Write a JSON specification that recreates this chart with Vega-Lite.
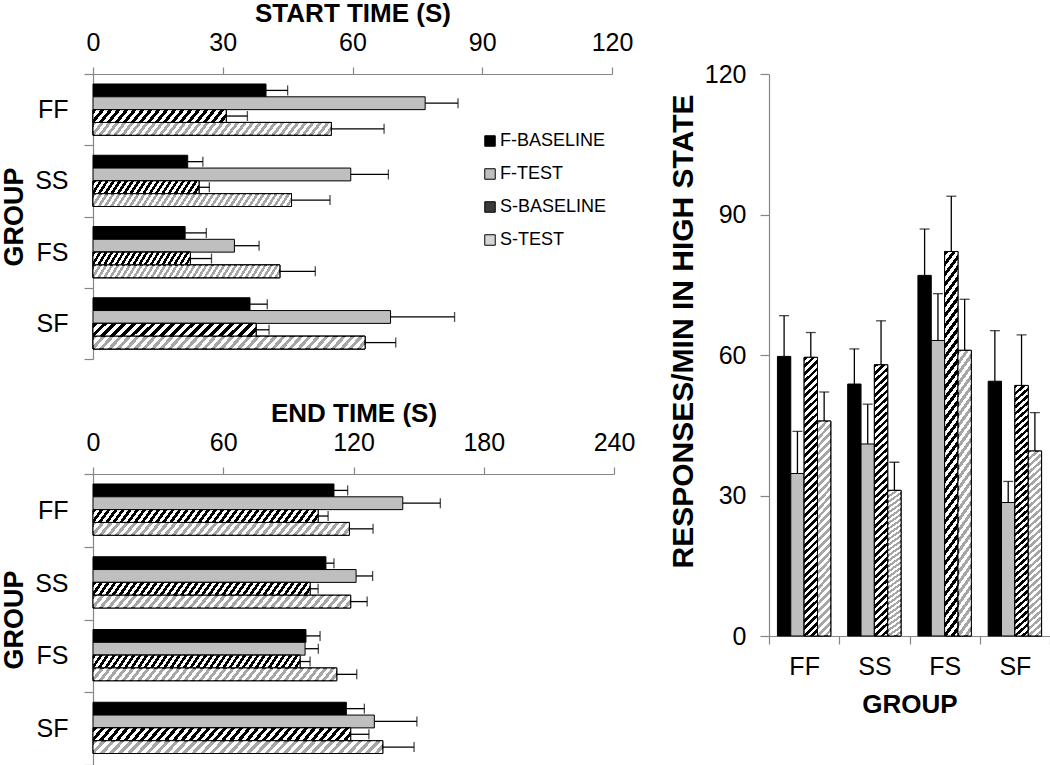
{
"$schema": "https://vega.github.io/schema/vega-lite/v6.json",
"padding": {"left": 0, "top": 0, "right": 0, "bottom": 0},
"background": "white",
"config": {
"view": {"stroke": null},
"font": "Liberation Sans",
"axis": {"labelFont": "Liberation Sans", "titleFont": "Liberation Sans", "labelFontSize": 25, "titleFontSize": 26, "titleFontWeight": "bold", "labelColor": "#000000", "titleColor": "#000000", "domainColor": "#868686", "tickColor": "#868686", "domainWidth": 1.2, "tickWidth": 1.2, "grid": false, "labelFlush": false, "labelBound": false}
},
"datasets": {
"start": [
{"group":"FF","series":"F-BASELINE","mean":40,"upper":45},
{"group":"FF","series":"F-TEST","mean":76.8,"upper":84.4},
{"group":"FF","series":"S-BASELINE","mean":30.8,"upper":35.7},
{"group":"FF","series":"S-TEST","mean":55.1,"upper":67.3},
{"group":"SS","series":"F-BASELINE","mean":21.9,"upper":25.4},
{"group":"SS","series":"F-TEST","mean":59.6,"upper":68.3},
{"group":"SS","series":"S-BASELINE","mean":24.5,"upper":26.9},
{"group":"SS","series":"S-TEST","mean":45.9,"upper":54.8},
{"group":"FS","series":"F-BASELINE","mean":21.3,"upper":26.2},
{"group":"FS","series":"F-TEST","mean":32.7,"upper":38.4},
{"group":"FS","series":"S-BASELINE","mean":22.5,"upper":27.4},
{"group":"FS","series":"S-TEST","mean":43.2,"upper":51.4},
{"group":"SF","series":"F-BASELINE","mean":36.3,"upper":40.3},
{"group":"SF","series":"F-TEST","mean":68.8,"upper":83.6},
{"group":"SF","series":"S-BASELINE","mean":37.7,"upper":40.7},
{"group":"SF","series":"S-TEST","mean":62.9,"upper":70.0}
],
"end": [
{"group":"FF","series":"F-BASELINE","mean":111,"upper":117.3},
{"group":"FF","series":"F-TEST","mean":142.7,"upper":160},
{"group":"FF","series":"S-BASELINE","mean":103.7,"upper":108.3},
{"group":"FF","series":"S-TEST","mean":118.1,"upper":129},
{"group":"SS","series":"F-BASELINE","mean":107.3,"upper":111},
{"group":"SS","series":"F-TEST","mean":121.2,"upper":128.8},
{"group":"SS","series":"S-BASELINE","mean":100,"upper":103.7},
{"group":"SS","series":"S-TEST","mean":118.7,"upper":126.3},
{"group":"FS","series":"F-BASELINE","mean":98.1,"upper":104.6},
{"group":"FS","series":"F-TEST","mean":97.7,"upper":103.8},
{"group":"FS","series":"S-BASELINE","mean":95.4,"upper":100},
{"group":"FS","series":"S-TEST","mean":112.3,"upper":121.5},
{"group":"SF","series":"F-BASELINE","mean":116.7,"upper":125},
{"group":"SF","series":"F-TEST","mean":129.6,"upper":149.2},
{"group":"SF","series":"S-BASELINE","mean":118.7,"upper":127.1},
{"group":"SF","series":"S-TEST","mean":133.5,"upper":147.9}
],
"rate": [
{"group":"FF","series":"F-BASELINE","mean":59.7,"upper":68.4},
{"group":"FF","series":"F-TEST","mean":34.7,"upper":43.7},
{"group":"FF","series":"S-BASELINE","mean":59.5,"upper":64.8},
{"group":"FF","series":"S-TEST","mean":45.9,"upper":52.1},
{"group":"SS","series":"F-BASELINE","mean":53.8,"upper":61.3},
{"group":"SS","series":"F-TEST","mean":41,"upper":49.5},
{"group":"SS","series":"S-BASELINE","mean":57.9,"upper":67.3},
{"group":"SS","series":"S-TEST","mean":31.1,"upper":37.1},
{"group":"FS","series":"F-BASELINE","mean":77,"upper":86.9},
{"group":"FS","series":"F-TEST","mean":63.1,"upper":73.1},
{"group":"FS","series":"S-BASELINE","mean":82.1,"upper":93.9},
{"group":"FS","series":"S-TEST","mean":61,"upper":71.9},
{"group":"SF","series":"F-BASELINE","mean":54.4,"upper":65.2},
{"group":"SF","series":"F-TEST","mean":28.5,"upper":33},
{"group":"SF","series":"S-BASELINE","mean":53.5,"upper":64.3},
{"group":"SF","series":"S-TEST","mean":39.5,"upper":47.7}
]
},
"resolve": {"scale": {"fill": "independent"}, "legend": {"fill": "independent"}, "axis": {}},
"spacing": 33,
"hconcat": [
{
"resolve": {"scale": {"fill": "independent"}, "legend": {"fill": "independent"}, "axis": {}},
"bounds": "flush",
"spacing": 115,
"vconcat": [
{
"width": 519, "height": 285,
"data": {"name": "start"},
"encoding": {
"y": {"field": "group", "type": "nominal", "sort": ["FF","SS","FS","SF"], "scale": {"paddingInner": 0, "paddingOuter": 0}, "axis": {"title": "GROUP", "titleFontSize": 27, "tickBand": "extent", "tickSize": 9, "labelPadding": 16, "titlePadding": 6}},
"yOffset": {"field": "series", "type": "nominal", "sort": ["F-BASELINE","F-TEST","S-BASELINE","S-TEST"], "scale": {"domain": ["F-BASELINE","F-TEST","S-BASELINE","S-TEST"], "paddingInner": 0, "paddingOuter": 0.78}},
"x": {"field": "mean", "type": "quantitative", "scale": {"domain": [0,120]}, "axis": {"orient": "top", "values": [0,30,60,90,120], "title": "START TIME (S)", "tickSize": 7, "labelPadding": 12, "titlePadding": 4}}
},
"layer": [
{"mark": {"type": "bar", "stroke": "#000000", "strokeWidth": 1},
 "encoding": {"fill": {"field": "series", "type": "nominal", "scale": {"domain": ["F-BASELINE","F-TEST","S-BASELINE","S-TEST"], "range": ["#000000","#bfbfbf","#3a3a3a","#d6d6d6"]},
  "legend": {"orient": "none", "legendX": 388, "legendY": 58, "title": null, "symbolType": "square", "symbolSize": 110, "symbolStrokeColor": "#000000", "symbolStrokeWidth": 1, "labelFont": "Liberation Sans", "labelFontSize": 18, "labelColor": "#000000", "labelOffset": 1, "rowPadding": 15}}}},
{"transform": [{"filter": "datum.series === 'S-BASELINE'"}], "mark": {"type": "bar", "color": "#000000", "stroke": "#000000", "strokeWidth": 1}},
{"transform": [{"filter": "datum.series === 'S-TEST'"}], "mark": {"type": "bar", "color": "#a6a6a6", "stroke": "#000000", "strokeWidth": 1}},
{"transform": [{"filter": "datum.series === 'S-BASELINE'"}], "mark": {"type": "bar", "stroke": "#000000", "strokeWidth": 1, "color": {"gradient": "linear", "x1": 0, "y1": 0, "x2": 1.0731, "y2": 0.0858, "stops": [{"offset":0,"color":"transparent"},{"offset":0.0278,"color":"transparent"},{"offset":0.0278,"color":"white"},{"offset":0.0556,"color":"white"},{"offset":0.0556,"color":"transparent"},{"offset":0.0833,"color":"transparent"},{"offset":0.0833,"color":"white"},{"offset":0.1111,"color":"white"},{"offset":0.1111,"color":"transparent"},{"offset":0.1389,"color":"transparent"},{"offset":0.1389,"color":"white"},{"offset":0.1667,"color":"white"},{"offset":0.1667,"color":"transparent"},{"offset":0.1944,"color":"transparent"},{"offset":0.1944,"color":"white"},{"offset":0.2222,"color":"white"},{"offset":0.2222,"color":"transparent"},{"offset":0.25,"color":"transparent"},{"offset":0.25,"color":"white"},{"offset":0.2778,"color":"white"},{"offset":0.2778,"color":"transparent"},{"offset":0.3056,"color":"transparent"},{"offset":0.3056,"color":"white"},{"offset":0.3333,"color":"white"},{"offset":0.3333,"color":"transparent"},{"offset":0.3611,"color":"transparent"},{"offset":0.3611,"color":"white"},{"offset":0.3889,"color":"white"},{"offset":0.3889,"color":"transparent"},{"offset":0.4167,"color":"transparent"},{"offset":0.4167,"color":"white"},{"offset":0.4444,"color":"white"},{"offset":0.4444,"color":"transparent"},{"offset":0.4722,"color":"transparent"},{"offset":0.4722,"color":"white"},{"offset":0.5,"color":"white"},{"offset":0.5,"color":"transparent"},{"offset":0.5278,"color":"transparent"},{"offset":0.5278,"color":"white"},{"offset":0.5556,"color":"white"},{"offset":0.5556,"color":"transparent"},{"offset":0.5833,"color":"transparent"},{"offset":0.5833,"color":"white"},{"offset":0.6111,"color":"white"},{"offset":0.6111,"color":"transparent"},{"offset":0.6389,"color":"transparent"},{"offset":0.6389,"color":"white"},{"offset":0.6667,"color":"white"},{"offset":0.6667,"color":"transparent"},{"offset":0.6944,"color":"transparent"},{"offset":0.6944,"color":"white"},{"offset":0.7222,"color":"white"},{"offset":0.7222,"color":"transparent"},{"offset":0.75,"color":"transparent"},{"offset":0.75,"color":"white"},{"offset":0.7778,"color":"white"},{"offset":0.7778,"color":"transparent"},{"offset":0.8056,"color":"transparent"},{"offset":0.8056,"color":"white"},{"offset":0.8333,"color":"white"},{"offset":0.8333,"color":"transparent"},{"offset":0.8611,"color":"transparent"},{"offset":0.8611,"color":"white"},{"offset":0.8889,"color":"white"},{"offset":0.8889,"color":"transparent"},{"offset":0.9167,"color":"transparent"},{"offset":0.9167,"color":"white"},{"offset":0.9444,"color":"white"},{"offset":0.9444,"color":"transparent"},{"offset":0.9722,"color":"transparent"},{"offset":0.9722,"color":"white"},{"offset":1,"color":"white"}]}}},
{"transform": [{"filter": "datum.series === 'S-TEST'"}], "mark": {"type": "bar", "stroke": "#000000", "strokeWidth": 1, "color": {"gradient": "linear", "x1": 0, "y1": 0, "x2": 1.0402, "y2": 0.0437, "stops": [{"offset":0,"color":"transparent"},{"offset":0.0152,"color":"transparent"},{"offset":0.0152,"color":"white"},{"offset":0.0303,"color":"white"},{"offset":0.0303,"color":"transparent"},{"offset":0.0455,"color":"transparent"},{"offset":0.0455,"color":"white"},{"offset":0.0606,"color":"white"},{"offset":0.0606,"color":"transparent"},{"offset":0.0758,"color":"transparent"},{"offset":0.0758,"color":"white"},{"offset":0.0909,"color":"white"},{"offset":0.0909,"color":"transparent"},{"offset":0.1061,"color":"transparent"},{"offset":0.1061,"color":"white"},{"offset":0.1212,"color":"white"},{"offset":0.1212,"color":"transparent"},{"offset":0.1364,"color":"transparent"},{"offset":0.1364,"color":"white"},{"offset":0.1515,"color":"white"},{"offset":0.1515,"color":"transparent"},{"offset":0.1667,"color":"transparent"},{"offset":0.1667,"color":"white"},{"offset":0.1818,"color":"white"},{"offset":0.1818,"color":"transparent"},{"offset":0.197,"color":"transparent"},{"offset":0.197,"color":"white"},{"offset":0.2121,"color":"white"},{"offset":0.2121,"color":"transparent"},{"offset":0.2273,"color":"transparent"},{"offset":0.2273,"color":"white"},{"offset":0.2424,"color":"white"},{"offset":0.2424,"color":"transparent"},{"offset":0.2576,"color":"transparent"},{"offset":0.2576,"color":"white"},{"offset":0.2727,"color":"white"},{"offset":0.2727,"color":"transparent"},{"offset":0.2879,"color":"transparent"},{"offset":0.2879,"color":"white"},{"offset":0.303,"color":"white"},{"offset":0.303,"color":"transparent"},{"offset":0.3182,"color":"transparent"},{"offset":0.3182,"color":"white"},{"offset":0.3333,"color":"white"},{"offset":0.3333,"color":"transparent"},{"offset":0.3485,"color":"transparent"},{"offset":0.3485,"color":"white"},{"offset":0.3636,"color":"white"},{"offset":0.3636,"color":"transparent"},{"offset":0.3788,"color":"transparent"},{"offset":0.3788,"color":"white"},{"offset":0.3939,"color":"white"},{"offset":0.3939,"color":"transparent"},{"offset":0.4091,"color":"transparent"},{"offset":0.4091,"color":"white"},{"offset":0.4242,"color":"white"},{"offset":0.4242,"color":"transparent"},{"offset":0.4394,"color":"transparent"},{"offset":0.4394,"color":"white"},{"offset":0.4545,"color":"white"},{"offset":0.4545,"color":"transparent"},{"offset":0.4697,"color":"transparent"},{"offset":0.4697,"color":"white"},{"offset":0.4848,"color":"white"},{"offset":0.4848,"color":"transparent"},{"offset":0.5,"color":"transparent"},{"offset":0.5,"color":"white"},{"offset":0.5152,"color":"white"},{"offset":0.5152,"color":"transparent"},{"offset":0.5303,"color":"transparent"},{"offset":0.5303,"color":"white"},{"offset":0.5455,"color":"white"},{"offset":0.5455,"color":"transparent"},{"offset":0.5606,"color":"transparent"},{"offset":0.5606,"color":"white"},{"offset":0.5758,"color":"white"},{"offset":0.5758,"color":"transparent"},{"offset":0.5909,"color":"transparent"},{"offset":0.5909,"color":"white"},{"offset":0.6061,"color":"white"},{"offset":0.6061,"color":"transparent"},{"offset":0.6212,"color":"transparent"},{"offset":0.6212,"color":"white"},{"offset":0.6364,"color":"white"},{"offset":0.6364,"color":"transparent"},{"offset":0.6515,"color":"transparent"},{"offset":0.6515,"color":"white"},{"offset":0.6667,"color":"white"},{"offset":0.6667,"color":"transparent"},{"offset":0.6818,"color":"transparent"},{"offset":0.6818,"color":"white"},{"offset":0.697,"color":"white"},{"offset":0.697,"color":"transparent"},{"offset":0.7121,"color":"transparent"},{"offset":0.7121,"color":"white"},{"offset":0.7273,"color":"white"},{"offset":0.7273,"color":"transparent"},{"offset":0.7424,"color":"transparent"},{"offset":0.7424,"color":"white"},{"offset":0.7576,"color":"white"},{"offset":0.7576,"color":"transparent"},{"offset":0.7727,"color":"transparent"},{"offset":0.7727,"color":"white"},{"offset":0.7879,"color":"white"},{"offset":0.7879,"color":"transparent"},{"offset":0.803,"color":"transparent"},{"offset":0.803,"color":"white"},{"offset":0.8182,"color":"white"},{"offset":0.8182,"color":"transparent"},{"offset":0.8333,"color":"transparent"},{"offset":0.8333,"color":"white"},{"offset":0.8485,"color":"white"},{"offset":0.8485,"color":"transparent"},{"offset":0.8636,"color":"transparent"},{"offset":0.8636,"color":"white"},{"offset":0.8788,"color":"white"},{"offset":0.8788,"color":"transparent"},{"offset":0.8939,"color":"transparent"},{"offset":0.8939,"color":"white"},{"offset":0.9091,"color":"white"},{"offset":0.9091,"color":"transparent"},{"offset":0.9242,"color":"transparent"},{"offset":0.9242,"color":"white"},{"offset":0.9394,"color":"white"},{"offset":0.9394,"color":"transparent"},{"offset":0.9545,"color":"transparent"},{"offset":0.9545,"color":"white"},{"offset":0.9697,"color":"white"},{"offset":0.9697,"color":"transparent"},{"offset":0.9848,"color":"transparent"},{"offset":0.9848,"color":"white"},{"offset":1,"color":"white"}]}}},
{"mark": {"type": "rule", "color": "#000000", "strokeWidth": 1.3}, "encoding": {"x2": {"field": "upper"}}},
{"mark": {"type": "tick", "color": "#000000", "thickness": 1.3, "size": 10}, "encoding": {"x": {"field": "upper", "type": "quantitative"}}}
]
},
{
"width": 521, "height": 291,
"data": {"name": "end"},
"encoding": {
"y": {"field": "group", "type": "nominal", "sort": ["FF","SS","FS","SF"], "scale": {"paddingInner": 0, "paddingOuter": 0}, "axis": {"title": "GROUP", "titleFontSize": 27, "tickBand": "extent", "tickSize": 9, "labelPadding": 16, "titlePadding": 6}},
"yOffset": {"field": "series", "type": "nominal", "sort": ["F-BASELINE","F-TEST","S-BASELINE","S-TEST"], "scale": {"domain": ["F-BASELINE","F-TEST","S-BASELINE","S-TEST"], "paddingInner": 0, "paddingOuter": 0.78}},
"x": {"field": "mean", "type": "quantitative", "scale": {"domain": [0,240]}, "axis": {"orient": "top", "values": [0,60,120,180,240], "title": "END TIME (S)", "tickSize": 7, "labelPadding": 12, "titlePadding": 4}}
},
"layer": [
{"mark": {"type": "bar", "stroke": "#000000", "strokeWidth": 1},
 "encoding": {"fill": {"field": "series", "type": "nominal", "scale": {"domain": ["F-BASELINE","F-TEST","S-BASELINE","S-TEST"], "range": ["#000000","#bfbfbf","#000000","#a6a6a6"]}, "legend": null}}},
{"transform": [{"filter": "datum.series === 'S-BASELINE' || datum.series === 'S-TEST'"}], "mark": {"type": "bar", "stroke": "#000000", "strokeWidth": 1, "color": {"gradient": "linear", "x1": 0, "y1": 0, "x2": 1.0402, "y2": 0.0437, "stops": [{"offset":0,"color":"transparent"},{"offset":0.0152,"color":"transparent"},{"offset":0.0152,"color":"white"},{"offset":0.0303,"color":"white"},{"offset":0.0303,"color":"transparent"},{"offset":0.0455,"color":"transparent"},{"offset":0.0455,"color":"white"},{"offset":0.0606,"color":"white"},{"offset":0.0606,"color":"transparent"},{"offset":0.0758,"color":"transparent"},{"offset":0.0758,"color":"white"},{"offset":0.0909,"color":"white"},{"offset":0.0909,"color":"transparent"},{"offset":0.1061,"color":"transparent"},{"offset":0.1061,"color":"white"},{"offset":0.1212,"color":"white"},{"offset":0.1212,"color":"transparent"},{"offset":0.1364,"color":"transparent"},{"offset":0.1364,"color":"white"},{"offset":0.1515,"color":"white"},{"offset":0.1515,"color":"transparent"},{"offset":0.1667,"color":"transparent"},{"offset":0.1667,"color":"white"},{"offset":0.1818,"color":"white"},{"offset":0.1818,"color":"transparent"},{"offset":0.197,"color":"transparent"},{"offset":0.197,"color":"white"},{"offset":0.2121,"color":"white"},{"offset":0.2121,"color":"transparent"},{"offset":0.2273,"color":"transparent"},{"offset":0.2273,"color":"white"},{"offset":0.2424,"color":"white"},{"offset":0.2424,"color":"transparent"},{"offset":0.2576,"color":"transparent"},{"offset":0.2576,"color":"white"},{"offset":0.2727,"color":"white"},{"offset":0.2727,"color":"transparent"},{"offset":0.2879,"color":"transparent"},{"offset":0.2879,"color":"white"},{"offset":0.303,"color":"white"},{"offset":0.303,"color":"transparent"},{"offset":0.3182,"color":"transparent"},{"offset":0.3182,"color":"white"},{"offset":0.3333,"color":"white"},{"offset":0.3333,"color":"transparent"},{"offset":0.3485,"color":"transparent"},{"offset":0.3485,"color":"white"},{"offset":0.3636,"color":"white"},{"offset":0.3636,"color":"transparent"},{"offset":0.3788,"color":"transparent"},{"offset":0.3788,"color":"white"},{"offset":0.3939,"color":"white"},{"offset":0.3939,"color":"transparent"},{"offset":0.4091,"color":"transparent"},{"offset":0.4091,"color":"white"},{"offset":0.4242,"color":"white"},{"offset":0.4242,"color":"transparent"},{"offset":0.4394,"color":"transparent"},{"offset":0.4394,"color":"white"},{"offset":0.4545,"color":"white"},{"offset":0.4545,"color":"transparent"},{"offset":0.4697,"color":"transparent"},{"offset":0.4697,"color":"white"},{"offset":0.4848,"color":"white"},{"offset":0.4848,"color":"transparent"},{"offset":0.5,"color":"transparent"},{"offset":0.5,"color":"white"},{"offset":0.5152,"color":"white"},{"offset":0.5152,"color":"transparent"},{"offset":0.5303,"color":"transparent"},{"offset":0.5303,"color":"white"},{"offset":0.5455,"color":"white"},{"offset":0.5455,"color":"transparent"},{"offset":0.5606,"color":"transparent"},{"offset":0.5606,"color":"white"},{"offset":0.5758,"color":"white"},{"offset":0.5758,"color":"transparent"},{"offset":0.5909,"color":"transparent"},{"offset":0.5909,"color":"white"},{"offset":0.6061,"color":"white"},{"offset":0.6061,"color":"transparent"},{"offset":0.6212,"color":"transparent"},{"offset":0.6212,"color":"white"},{"offset":0.6364,"color":"white"},{"offset":0.6364,"color":"transparent"},{"offset":0.6515,"color":"transparent"},{"offset":0.6515,"color":"white"},{"offset":0.6667,"color":"white"},{"offset":0.6667,"color":"transparent"},{"offset":0.6818,"color":"transparent"},{"offset":0.6818,"color":"white"},{"offset":0.697,"color":"white"},{"offset":0.697,"color":"transparent"},{"offset":0.7121,"color":"transparent"},{"offset":0.7121,"color":"white"},{"offset":0.7273,"color":"white"},{"offset":0.7273,"color":"transparent"},{"offset":0.7424,"color":"transparent"},{"offset":0.7424,"color":"white"},{"offset":0.7576,"color":"white"},{"offset":0.7576,"color":"transparent"},{"offset":0.7727,"color":"transparent"},{"offset":0.7727,"color":"white"},{"offset":0.7879,"color":"white"},{"offset":0.7879,"color":"transparent"},{"offset":0.803,"color":"transparent"},{"offset":0.803,"color":"white"},{"offset":0.8182,"color":"white"},{"offset":0.8182,"color":"transparent"},{"offset":0.8333,"color":"transparent"},{"offset":0.8333,"color":"white"},{"offset":0.8485,"color":"white"},{"offset":0.8485,"color":"transparent"},{"offset":0.8636,"color":"transparent"},{"offset":0.8636,"color":"white"},{"offset":0.8788,"color":"white"},{"offset":0.8788,"color":"transparent"},{"offset":0.8939,"color":"transparent"},{"offset":0.8939,"color":"white"},{"offset":0.9091,"color":"white"},{"offset":0.9091,"color":"transparent"},{"offset":0.9242,"color":"transparent"},{"offset":0.9242,"color":"white"},{"offset":0.9394,"color":"white"},{"offset":0.9394,"color":"transparent"},{"offset":0.9545,"color":"transparent"},{"offset":0.9545,"color":"white"},{"offset":0.9697,"color":"white"},{"offset":0.9697,"color":"transparent"},{"offset":0.9848,"color":"transparent"},{"offset":0.9848,"color":"white"},{"offset":1,"color":"white"}]}}},
{"mark": {"type": "rule", "color": "#000000", "strokeWidth": 1.3}, "encoding": {"x2": {"field": "upper"}}},
{"mark": {"type": "tick", "color": "#000000", "thickness": 1.3, "size": 10}, "encoding": {"x": {"field": "upper", "type": "quantitative"}}}
]
}
]
},
{
"width": 281, "height": 562,
"title": {"text": " ", "fontSize": 12, "offset": 46},
"data": {"name": "rate"},
"encoding": {
"x": {"field": "group", "type": "nominal", "sort": ["FF","SS","FS","SF"], "scale": {"paddingInner": 0, "paddingOuter": 0}, "axis": {"title": "GROUP", "labelAngle": 0, "tickBand": "extent", "tickSize": 8, "labelPadding": 10, "titlePadding": 12}},
"xOffset": {"field": "series", "type": "nominal", "sort": ["F-BASELINE","F-TEST","S-BASELINE","S-TEST"], "scale": {"domain": ["F-BASELINE","F-TEST","S-BASELINE","S-TEST"], "paddingInner": 0, "paddingOuter": 0.632}},
"y": {"field": "mean", "type": "quantitative", "scale": {"domain": [0,120]}, "axis": {"values": [0,30,60,90,120], "title": "RESPONSES/MIN IN HIGH STATE", "titleFontSize": 30, "titleY": 257, "tickSize": 9, "labelPadding": 14, "titlePadding": 6}}
},
"layer": [
{"mark": {"type": "bar", "stroke": "#000000", "strokeWidth": 1},
 "encoding": {"fill": {"field": "series", "type": "nominal", "scale": {"domain": ["F-BASELINE","F-TEST","S-BASELINE","S-TEST"], "range": ["#000000","#bfbfbf","#000000","#a6a6a6"]}, "legend": null}}},
{"transform": [{"filter": "datum.series === 'S-BASELINE'"}], "mark": {"type": "bar", "stroke": "#000000", "strokeWidth": 1, "color": {"gradient": "linear", "x1": 0, "y1": 0, "x2": 0.0488, "y2": 1.0445, "stops": [{"offset":0,"color":"transparent"},{"offset":0.0128,"color":"transparent"},{"offset":0.0128,"color":"white"},{"offset":0.0256,"color":"white"},{"offset":0.0256,"color":"transparent"},{"offset":0.0385,"color":"transparent"},{"offset":0.0385,"color":"white"},{"offset":0.0513,"color":"white"},{"offset":0.0513,"color":"transparent"},{"offset":0.0641,"color":"transparent"},{"offset":0.0641,"color":"white"},{"offset":0.0769,"color":"white"},{"offset":0.0769,"color":"transparent"},{"offset":0.0897,"color":"transparent"},{"offset":0.0897,"color":"white"},{"offset":0.1026,"color":"white"},{"offset":0.1026,"color":"transparent"},{"offset":0.1154,"color":"transparent"},{"offset":0.1154,"color":"white"},{"offset":0.1282,"color":"white"},{"offset":0.1282,"color":"transparent"},{"offset":0.141,"color":"transparent"},{"offset":0.141,"color":"white"},{"offset":0.1538,"color":"white"},{"offset":0.1538,"color":"transparent"},{"offset":0.1667,"color":"transparent"},{"offset":0.1667,"color":"white"},{"offset":0.1795,"color":"white"},{"offset":0.1795,"color":"transparent"},{"offset":0.1923,"color":"transparent"},{"offset":0.1923,"color":"white"},{"offset":0.2051,"color":"white"},{"offset":0.2051,"color":"transparent"},{"offset":0.2179,"color":"transparent"},{"offset":0.2179,"color":"white"},{"offset":0.2308,"color":"white"},{"offset":0.2308,"color":"transparent"},{"offset":0.2436,"color":"transparent"},{"offset":0.2436,"color":"white"},{"offset":0.2564,"color":"white"},{"offset":0.2564,"color":"transparent"},{"offset":0.2692,"color":"transparent"},{"offset":0.2692,"color":"white"},{"offset":0.2821,"color":"white"},{"offset":0.2821,"color":"transparent"},{"offset":0.2949,"color":"transparent"},{"offset":0.2949,"color":"white"},{"offset":0.3077,"color":"white"},{"offset":0.3077,"color":"transparent"},{"offset":0.3205,"color":"transparent"},{"offset":0.3205,"color":"white"},{"offset":0.3333,"color":"white"},{"offset":0.3333,"color":"transparent"},{"offset":0.3462,"color":"transparent"},{"offset":0.3462,"color":"white"},{"offset":0.359,"color":"white"},{"offset":0.359,"color":"transparent"},{"offset":0.3718,"color":"transparent"},{"offset":0.3718,"color":"white"},{"offset":0.3846,"color":"white"},{"offset":0.3846,"color":"transparent"},{"offset":0.3974,"color":"transparent"},{"offset":0.3974,"color":"white"},{"offset":0.4103,"color":"white"},{"offset":0.4103,"color":"transparent"},{"offset":0.4231,"color":"transparent"},{"offset":0.4231,"color":"white"},{"offset":0.4359,"color":"white"},{"offset":0.4359,"color":"transparent"},{"offset":0.4487,"color":"transparent"},{"offset":0.4487,"color":"white"},{"offset":0.4615,"color":"white"},{"offset":0.4615,"color":"transparent"},{"offset":0.4744,"color":"transparent"},{"offset":0.4744,"color":"white"},{"offset":0.4872,"color":"white"},{"offset":0.4872,"color":"transparent"},{"offset":0.5,"color":"transparent"},{"offset":0.5,"color":"white"},{"offset":0.5128,"color":"white"},{"offset":0.5128,"color":"transparent"},{"offset":0.5256,"color":"transparent"},{"offset":0.5256,"color":"white"},{"offset":0.5385,"color":"white"},{"offset":0.5385,"color":"transparent"},{"offset":0.5513,"color":"transparent"},{"offset":0.5513,"color":"white"},{"offset":0.5641,"color":"white"},{"offset":0.5641,"color":"transparent"},{"offset":0.5769,"color":"transparent"},{"offset":0.5769,"color":"white"},{"offset":0.5897,"color":"white"},{"offset":0.5897,"color":"transparent"},{"offset":0.6026,"color":"transparent"},{"offset":0.6026,"color":"white"},{"offset":0.6154,"color":"white"},{"offset":0.6154,"color":"transparent"},{"offset":0.6282,"color":"transparent"},{"offset":0.6282,"color":"white"},{"offset":0.641,"color":"white"},{"offset":0.641,"color":"transparent"},{"offset":0.6538,"color":"transparent"},{"offset":0.6538,"color":"white"},{"offset":0.6667,"color":"white"},{"offset":0.6667,"color":"transparent"},{"offset":0.6795,"color":"transparent"},{"offset":0.6795,"color":"white"},{"offset":0.6923,"color":"white"},{"offset":0.6923,"color":"transparent"},{"offset":0.7051,"color":"transparent"},{"offset":0.7051,"color":"white"},{"offset":0.7179,"color":"white"},{"offset":0.7179,"color":"transparent"},{"offset":0.7308,"color":"transparent"},{"offset":0.7308,"color":"white"},{"offset":0.7436,"color":"white"},{"offset":0.7436,"color":"transparent"},{"offset":0.7564,"color":"transparent"},{"offset":0.7564,"color":"white"},{"offset":0.7692,"color":"white"},{"offset":0.7692,"color":"transparent"},{"offset":0.7821,"color":"transparent"},{"offset":0.7821,"color":"white"},{"offset":0.7949,"color":"white"},{"offset":0.7949,"color":"transparent"},{"offset":0.8077,"color":"transparent"},{"offset":0.8077,"color":"white"},{"offset":0.8205,"color":"white"},{"offset":0.8205,"color":"transparent"},{"offset":0.8333,"color":"transparent"},{"offset":0.8333,"color":"white"},{"offset":0.8462,"color":"white"},{"offset":0.8462,"color":"transparent"},{"offset":0.859,"color":"transparent"},{"offset":0.859,"color":"white"},{"offset":0.8718,"color":"white"},{"offset":0.8718,"color":"transparent"},{"offset":0.8846,"color":"transparent"},{"offset":0.8846,"color":"white"},{"offset":0.8974,"color":"white"},{"offset":0.8974,"color":"transparent"},{"offset":0.9103,"color":"transparent"},{"offset":0.9103,"color":"white"},{"offset":0.9231,"color":"white"},{"offset":0.9231,"color":"transparent"},{"offset":0.9359,"color":"transparent"},{"offset":0.9359,"color":"white"},{"offset":0.9487,"color":"white"},{"offset":0.9487,"color":"transparent"},{"offset":0.9615,"color":"transparent"},{"offset":0.9615,"color":"white"},{"offset":0.9744,"color":"white"},{"offset":0.9744,"color":"transparent"},{"offset":0.9872,"color":"transparent"},{"offset":0.9872,"color":"white"},{"offset":1,"color":"white"}]}}},
{"transform": [{"filter": "datum.series === 'S-TEST'"}], "mark": {"type": "bar", "stroke": "#000000", "strokeWidth": 1, "color": {"gradient": "linear", "x1": 0, "y1": 0, "x2": 0.0689, "y2": 1.0605, "stops": [{"offset":0,"color":"transparent"},{"offset":0.0172,"color":"transparent"},{"offset":0.0172,"color":"white"},{"offset":0.0345,"color":"white"},{"offset":0.0345,"color":"transparent"},{"offset":0.0517,"color":"transparent"},{"offset":0.0517,"color":"white"},{"offset":0.069,"color":"white"},{"offset":0.069,"color":"transparent"},{"offset":0.0862,"color":"transparent"},{"offset":0.0862,"color":"white"},{"offset":0.1034,"color":"white"},{"offset":0.1034,"color":"transparent"},{"offset":0.1207,"color":"transparent"},{"offset":0.1207,"color":"white"},{"offset":0.1379,"color":"white"},{"offset":0.1379,"color":"transparent"},{"offset":0.1552,"color":"transparent"},{"offset":0.1552,"color":"white"},{"offset":0.1724,"color":"white"},{"offset":0.1724,"color":"transparent"},{"offset":0.1897,"color":"transparent"},{"offset":0.1897,"color":"white"},{"offset":0.2069,"color":"white"},{"offset":0.2069,"color":"transparent"},{"offset":0.2241,"color":"transparent"},{"offset":0.2241,"color":"white"},{"offset":0.2414,"color":"white"},{"offset":0.2414,"color":"transparent"},{"offset":0.2586,"color":"transparent"},{"offset":0.2586,"color":"white"},{"offset":0.2759,"color":"white"},{"offset":0.2759,"color":"transparent"},{"offset":0.2931,"color":"transparent"},{"offset":0.2931,"color":"white"},{"offset":0.3103,"color":"white"},{"offset":0.3103,"color":"transparent"},{"offset":0.3276,"color":"transparent"},{"offset":0.3276,"color":"white"},{"offset":0.3448,"color":"white"},{"offset":0.3448,"color":"transparent"},{"offset":0.3621,"color":"transparent"},{"offset":0.3621,"color":"white"},{"offset":0.3793,"color":"white"},{"offset":0.3793,"color":"transparent"},{"offset":0.3966,"color":"transparent"},{"offset":0.3966,"color":"white"},{"offset":0.4138,"color":"white"},{"offset":0.4138,"color":"transparent"},{"offset":0.431,"color":"transparent"},{"offset":0.431,"color":"white"},{"offset":0.4483,"color":"white"},{"offset":0.4483,"color":"transparent"},{"offset":0.4655,"color":"transparent"},{"offset":0.4655,"color":"white"},{"offset":0.4828,"color":"white"},{"offset":0.4828,"color":"transparent"},{"offset":0.5,"color":"transparent"},{"offset":0.5,"color":"white"},{"offset":0.5172,"color":"white"},{"offset":0.5172,"color":"transparent"},{"offset":0.5345,"color":"transparent"},{"offset":0.5345,"color":"white"},{"offset":0.5517,"color":"white"},{"offset":0.5517,"color":"transparent"},{"offset":0.569,"color":"transparent"},{"offset":0.569,"color":"white"},{"offset":0.5862,"color":"white"},{"offset":0.5862,"color":"transparent"},{"offset":0.6034,"color":"transparent"},{"offset":0.6034,"color":"white"},{"offset":0.6207,"color":"white"},{"offset":0.6207,"color":"transparent"},{"offset":0.6379,"color":"transparent"},{"offset":0.6379,"color":"white"},{"offset":0.6552,"color":"white"},{"offset":0.6552,"color":"transparent"},{"offset":0.6724,"color":"transparent"},{"offset":0.6724,"color":"white"},{"offset":0.6897,"color":"white"},{"offset":0.6897,"color":"transparent"},{"offset":0.7069,"color":"transparent"},{"offset":0.7069,"color":"white"},{"offset":0.7241,"color":"white"},{"offset":0.7241,"color":"transparent"},{"offset":0.7414,"color":"transparent"},{"offset":0.7414,"color":"white"},{"offset":0.7586,"color":"white"},{"offset":0.7586,"color":"transparent"},{"offset":0.7759,"color":"transparent"},{"offset":0.7759,"color":"white"},{"offset":0.7931,"color":"white"},{"offset":0.7931,"color":"transparent"},{"offset":0.8103,"color":"transparent"},{"offset":0.8103,"color":"white"},{"offset":0.8276,"color":"white"},{"offset":0.8276,"color":"transparent"},{"offset":0.8448,"color":"transparent"},{"offset":0.8448,"color":"white"},{"offset":0.8621,"color":"white"},{"offset":0.8621,"color":"transparent"},{"offset":0.8793,"color":"transparent"},{"offset":0.8793,"color":"white"},{"offset":0.8966,"color":"white"},{"offset":0.8966,"color":"transparent"},{"offset":0.9138,"color":"transparent"},{"offset":0.9138,"color":"white"},{"offset":0.931,"color":"white"},{"offset":0.931,"color":"transparent"},{"offset":0.9483,"color":"transparent"},{"offset":0.9483,"color":"white"},{"offset":0.9655,"color":"white"},{"offset":0.9655,"color":"transparent"},{"offset":0.9828,"color":"transparent"},{"offset":0.9828,"color":"white"},{"offset":1,"color":"white"}]}}},
{"mark": {"type": "rule", "color": "#000000", "strokeWidth": 1.3}, "encoding": {"y2": {"field": "upper"}}},
{"mark": {"type": "tick", "color": "#000000", "thickness": 1.3, "size": 10}, "encoding": {"y": {"field": "upper", "type": "quantitative"}}}
]
}
]
}
